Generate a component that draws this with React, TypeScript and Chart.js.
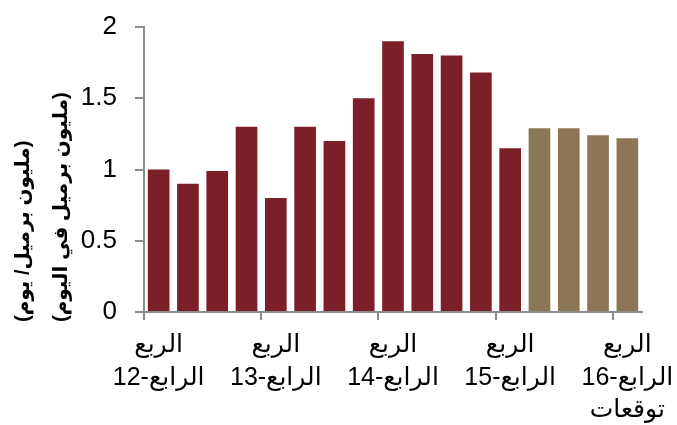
import React, { useEffect, useRef } from "react";
import { Chart, registerables } from "chart.js";

Chart.register(...registerables);

// Quarters (Q4-2012 .. Q4-2016)
const categories = [
  "الربع الرابع-12",
  "الربع الأول-13",
  "الربع الثاني-13",
  "الربع الثالث-13",
  "الربع الرابع-13",
  "الربع الأول-14",
  "الربع الثاني-14",
  "الربع الثالث-14",
  "الربع الرابع-14",
  "الربع الأول-15",
  "الربع الثاني-15",
  "الربع الثالث-15",
  "الربع الرابع-15",
  "الربع الأول-16",
  "الربع الثاني-16",
  "الربع الثالث-16",
  "الربع الرابع-16",
];

// million barrels per day
const values = [1.0, 0.9, 0.99, 1.3, 0.8, 1.3, 1.2, 1.5, 1.9, 1.81, 1.8, 1.68, 1.15, 1.29, 1.29, 1.24, 1.22];

// first forecast index
const forecastStart = 13;

const tickLabels: string[][] = [
  ["الربع", "الرابع-12"],
  ["الربع", "الرابع-13"],
  ["الربع", "الرابع-14"],
  ["الربع", "الرابع-15"],
  ["الربع", "الرابع-16", "توقعات"],
];

const yTicks = [0, 0.5, 1, 1.5, 2];

const titleLines = ["(مليون برميل/ يوم)", "(مليون برميل في اليوم)"];

const ACTUAL = "#7b1f29";
const FORECAST = "#8b7656";
const AXIS = "#8c8c8c";
const FONT = "'Liberation Sans', Arial, 'DejaVu Sans', sans-serif";

export default function App() {
  const ref = useRef<HTMLCanvasElement | null>(null);

  useEffect(() => {
    if (!ref.current) return;

    // rotated y-axis title, two lines, aligned to the bottom end
    const yTitle = {
      id: "yTitle",
      afterDraw(chart: any) {
        const { ctx, chartArea } = chart;
        const offsets = [chartArea.left - 121, chartArea.left - 83];
        ctx.save();
        ctx.font = `bold 20px ${FONT}`;
        ctx.fillStyle = "#000";
        ctx.textAlign = "left";
        ctx.textBaseline = "middle";
        titleLines.forEach((line, i) => {
          ctx.save();
          ctx.translate(offsets[i], chartArea.bottom + 10);
          ctx.rotate(-Math.PI / 2);
          ctx.fillText(line, 0, 0);
          ctx.restore();
        });
        ctx.restore();
      },
    };

    const chart = new Chart(ref.current, {
      type: "bar",
      data: {
        labels: categories,
        datasets: [
          {
            data: values,
            backgroundColor: values.map((_, i) => (i >= forecastStart ? FORECAST : ACTUAL)),
            borderWidth: 0,
            barPercentage: 0.74,
            categoryPercentage: 1,
          },
        ],
      },
      options: {
        responsive: false,
        animation: false,
        devicePixelRatio: 1,
        layout: { padding: { top: 27, right: 35, left: 0, bottom: 0 } },
        plugins: {
          legend: { display: false },
          tooltip: { enabled: false },
        },
        scales: {
          x: {
            type: "category",
            offset: true,
            grid: {
              offset: true,
              drawOnChartArea: false,
              drawTicks: true,
              tickLength: 8,
              lineWidth: 2,
              color: (ctx: any) =>
                ctx.index !== undefined && ctx.type === "tick" && ctx.index % 4 === 0 ? AXIS : "rgba(0,0,0,0)",
            },
            border: { display: true, color: AXIS, width: 2 },
            ticks: {
              autoSkip: false,
              maxRotation: 0,
              minRotation: 0,
              padding: 9,
              color: "#000",
              font: { family: FONT, size: 25, lineHeight: 1.3 },
              callback: (_v: any, index: number) => (index % 4 === 0 ? tickLabels[index / 4] : ""),
            },
            afterFit: (scale: any) => {
              scale.height = 113;
              scale.paddingLeft = 0;
              scale.paddingRight = 0;
            },
          },
          y: {
            min: 0,
            max: 2,
            afterBuildTicks: (scale: any) => {
              scale.ticks = yTicks.map((v) => ({ value: v }));
            },
            grid: {
              drawOnChartArea: false,
              drawTicks: true,
              tickLength: 9,
              lineWidth: 2,
              color: AXIS,
            },
            border: { display: true, color: AXIS, width: 2 },
            ticks: {
              padding: 18,
              color: "#000",
              font: { family: FONT, size: 26 },
              callback: (v: any) => String(v),
            },
            afterFit: (scale: any) => {
              scale.width = 144;
              scale.paddingTop = 0;
              scale.paddingBottom = 0;
            },
          },
        },
      },
      plugins: [yTitle],
    });

    return () => chart.destroy();
  }, []);

  return (
    <div style={{ position: "absolute", left: 0, top: 0, width: 677, height: 425 }}>
      <canvas ref={ref} width={677} height={425} />
    </div>
  );
}
